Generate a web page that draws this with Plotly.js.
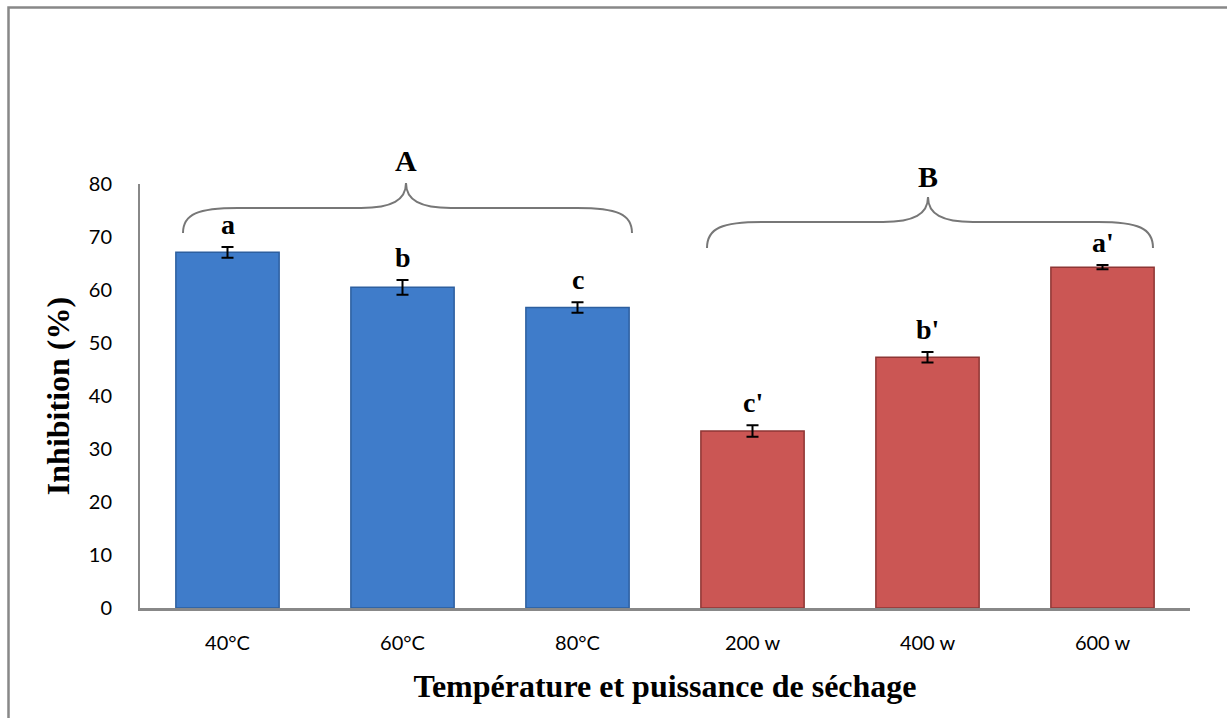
<!DOCTYPE html>
<html>
<head>
<meta charset="utf-8">
<script src="https://cdn.plot.ly/plotly-3.0.1.min.js"></script>
<style>html,body{margin:0;padding:0;background:#fff;}#chart{width:1227px;height:718px;}</style>
</head>
<body>
<div id="chart"></div>
<script>
// Data
const categories = ["40°C", "60°C", "80°C", "200 w", "400 w", "600 w"];
const inhibition = [67.1, 60.5, 56.7, 33.4, 47.3, 64.3];
const errors = [1.0, 1.4, 1.0, 1.1, 1.0, 0.4];
const letters = ["a", "b", "c", "c'", "b'", "a'"];
const groupLabels = ["A", "B"];
const barColors = ["#3f7cca", "#3f7cca", "#3f7cca", "#cb5654", "#cb5654", "#cb5654"];
const barEdges = ["#2d5f9f", "#2d5f9f", "#2d5f9f", "#8e3634", "#8e3634", "#8e3634"];

// plot area geometry (pixels)
const W = 1227, H = 718;
const L = 140, R = 1190, T = 184, B = 608;
const px = x => (x - L) / (R - L);
const py = y => (B - y) / (B - T);

function brace(x0, x1, xm, yEnd, yH, yTop) {
  const p = (x, y) => px(x).toFixed(5) + "," + py(y).toFixed(5);
  return "M" + p(x0, yEnd) +
    " C" + p(x0, yH + 6) + " " + p(x0 + 15, yH) + " " + p(x0 + 55, yH) +
    " L" + p(xm - 45, yH) +
    " C" + p(xm - 14, yH) + " " + p(xm, yH - 8) + " " + p(xm, yTop) +
    " C" + p(xm, yH - 8) + " " + p(xm + 14, yH) + " " + p(xm + 45, yH) +
    " L" + p(x1 - 55, yH) +
    " C" + p(x1 - 15, yH) + " " + p(x1, yH + 6) + " " + p(x1, yEnd);
}

const trace = {
  type: "bar",
  x: categories,
  y: inhibition,
  marker: { color: barColors, line: { color: barEdges, width: 1.5 } },
  error_y: { type: "data", array: errors, visible: true, color: "#000", thickness: 2, width: 6 },
  hoverinfo: "x+y",
  showlegend: false
};

const serif = "Liberation Serif, Times New Roman, serif";
const annotations = letters.map((t, i) => ({
  x: categories[i], y: inhibition[i] + errors[i], xref: "x", yref: "y",
  text: t, showarrow: false, yanchor: "bottom", yshift: 5,
  font: { family: serif, size: 28, color: "#000", weight: "bold" }
}));
annotations.push({
  x: px(406), y: py(161), xref: "paper", yref: "paper", text: groupLabels[0], showarrow: false,
  xanchor: "center", yanchor: "middle",
  font: { family: serif, size: 30, color: "#000", weight: "bold" }
});
annotations.push({
  x: px(928), y: py(176), xref: "paper", yref: "paper", text: groupLabels[1], showarrow: false,
  xanchor: "center", yanchor: "middle",
  font: { family: serif, size: 30, color: "#000", weight: "bold" }
});

const shapes = [
  { type: "path", xref: "paper", yref: "paper", path: brace(183, 632, 406, 233, 208, 183), line: { color: "#777", width: 2 } },
  { type: "path", xref: "paper", yref: "paper", path: brace(707, 1153, 928, 248, 222, 197), line: { color: "#777", width: 2 } },
  { type: "rect", xref: "paper", yref: "paper", x0: px(8.5), x1: px(1260), y0: py(7.5), y1: py(760), line: { color: "#888", width: 2.5 }, layer: "below" }
];

const layout = {
  width: W, height: H,
  margin: { l: L, r: W - R, t: T, b: H - B, pad: 0 },
  paper_bgcolor: "#fff", plot_bgcolor: "#fff",
  bargap: 0.41,
  font: { family: "Lato, Carlito, Calibri, sans-serif", size: 20, color: "#000" },
  xaxis: {
    showgrid: false, zeroline: false, showline: true, linecolor: "#888", linewidth: 2.5,
    ticks: "", ticklabelstandoff: 15, tickfont: { family: "Lato, sans-serif", size: 20, color: "#000" },
    title: { text: "Température et puissance de séchage", standoff: 22,
      font: { family: serif, size: 32, color: "#000", weight: "bold" } }
  },
  yaxis: {
    range: [0, 80], dtick: 10, showgrid: false, zeroline: false, showline: true, linecolor: "#888", linewidth: 2,
    ticks: "", ticklabelstandoff: 22, tickfont: { family: "Lato, sans-serif", size: 20, color: "#000" },
    title: { text: "Inhibition (%)", standoff: 10,
      font: { family: serif, size: 32, color: "#000", weight: "bold" } }
  },
  annotations: annotations,
  shapes: shapes
};

Plotly.newPlot("chart", [trace], layout, { displayModeBar: false, staticPlot: true });
</script>
</body>
</html>
